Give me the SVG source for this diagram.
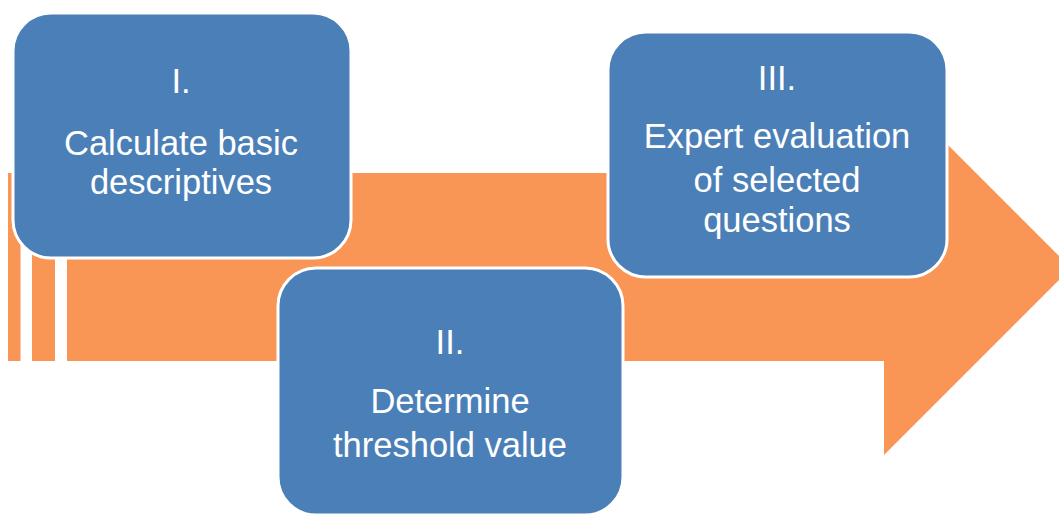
<svg xmlns="http://www.w3.org/2000/svg" width="1059" height="514" viewBox="0 0 1059 514">
<style>
.arrow{fill:#FA9655}
.box{fill:#4B7FB8;stroke:#FFFFFF;stroke-width:3}
.t{font-family:"Liberation Sans",Arial,sans-serif;font-size:34.5px;fill:#FFFFFF;text-anchor:middle}
</style>
<rect width="1059" height="514" fill="#FFFFFF"/>
<g id="arrow">
<rect class="arrow" x="8" y="173" width="12.5" height="188"/>
<rect class="arrow" x="32" y="173" width="23" height="188"/>
<polygon class="arrow" points="67,173 884,173 884,81 1071,268 884,455 884,361 67,361"/>
</g>
<g id="node1">
<rect class="box" x="13" y="13" width="338" height="245" rx="38" ry="38"/>
<text class="t" x="181" y="93">I.</text>
<text class="t" x="181" y="155">Calculate basic</text>
<text class="t" x="181" y="194">descriptives</text>
</g>
<g id="node2">
<rect class="box" x="278" y="268" width="345" height="247" rx="38" ry="38"/>
<text class="t" x="450" y="354">II.</text>
<text class="t" x="450" y="413">Determine</text>
<text class="t" x="450" y="457">threshold value</text>
</g>
<g id="node3">
<rect class="box" x="608" y="32" width="339" height="245" rx="38" ry="38"/>
<text class="t" x="777" y="90">III.</text>
<text class="t" x="777" y="148">Expert evaluation</text>
<text class="t" x="777" y="192">of selected</text>
<text class="t" x="777" y="232">questions</text>
</g>
<g id="connectors"></g>
</svg>
